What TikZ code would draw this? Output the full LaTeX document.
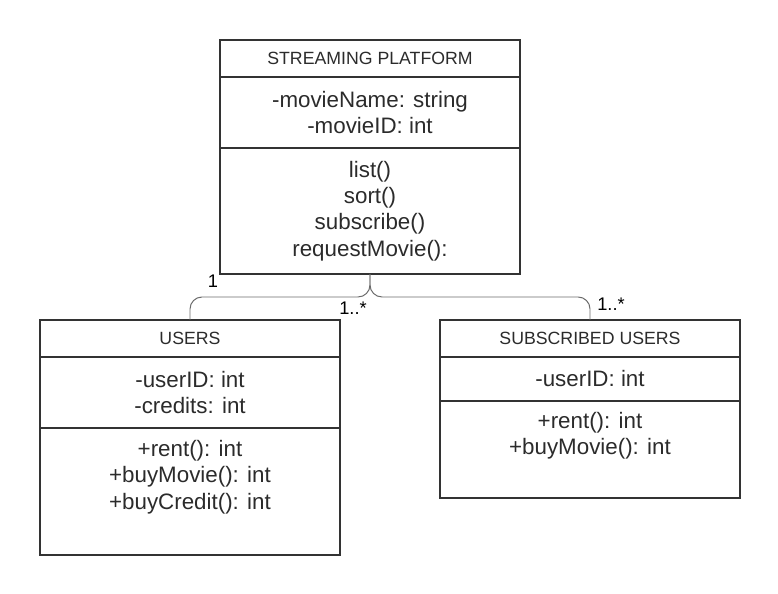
\documentclass[tikz,border=0pt]{standalone}
\usepackage{fontspec}
\setmainfont{Liberation Sans}
\usepackage{xcolor}
\usepackage{tikz}
\usetikzlibrary{positioning}
\definecolor{umlline}{HTML}{333333}
\definecolor{umltext}{HTML}{2B2B2B}
\definecolor{umllink}{HTML}{6B6B6B}

\begin{document}
\begin{tikzpicture}[
    part/.style={rectangle, draw=umlline, line width=1.3pt, minimum width=7.5cm,
                 inner xsep=4pt, inner ysep=3pt, outer sep=0pt, align=center,
                 text=umltext, font=\fontsize{15.9}{18.8}\selectfont},
    head/.style={part, minimum height=0.925cm,
                 font=\fontsize{12.6}{15}\selectfont},
    pad/.style={text depth=#1},
    link/.style={draw=umllink, line width=0.7pt, rounded corners=0.3cm},
    mult/.style={font=\fontsize{13}{15}\selectfont, text=black, inner sep=0pt}
  ]
    \useasboundingbox (0,0) rectangle (19.45,-14.85);
    % Streaming platform (top)
    \node[head, anchor=north] (spT) at (9.25,-1.0) {STREAMING PLATFORM};
    \node[part, minimum height=1.775cm, below=0pt of spT] (spA)
      {-movieName: string\\-movieID: int};
    \node[part, minimum height=3.15cm, below=0pt of spA] (spM)
      {list()\\sort()\\subscribe()\\requestMovie():};
    % Users (left)
    \node[head, anchor=north] (usT) at (4.75,-8.0) {USERS};
    \node[part, minimum height=1.775cm, below=0pt of usT] (usA)
      {-userID: int\\-credits: int};
    \node[part, minimum height=3.175cm, pad=0.85cm, below=0pt of usA] (usM)
      {+rent(): int\\+buyMovie(): int\\+buyCredit(): int};
    % Subscribed users (right)
    \node[head, anchor=north] (suT) at (14.75,-8.0) {SUBSCRIBED USERS};
    \node[part, minimum height=1.1cm, below=0pt of suT] (suA)
      {-userID: int};
    \node[part, minimum height=2.425cm, pad=0.8cm, below=0pt of suA] (suM)
      {+rent(): int\\+buyMovie(): int};
    % Associations
    \coordinate (fork) at ([yshift=-0.575cm]spM.south);
    \draw[link] (spM.south) -- (fork) -| (usT.north);
    \draw[link] (spM.south) -- (fork) -| (suT.north);
    % Multiplicities
    \node[mult] (m1) at (5.325,-7.025) {1};
    \node[mult] (m2) at (8.825,-7.7) {1..*};
    \node[mult] (m3) at (15.275,-7.6) {1..*};
  \end{tikzpicture}
\end{document}
